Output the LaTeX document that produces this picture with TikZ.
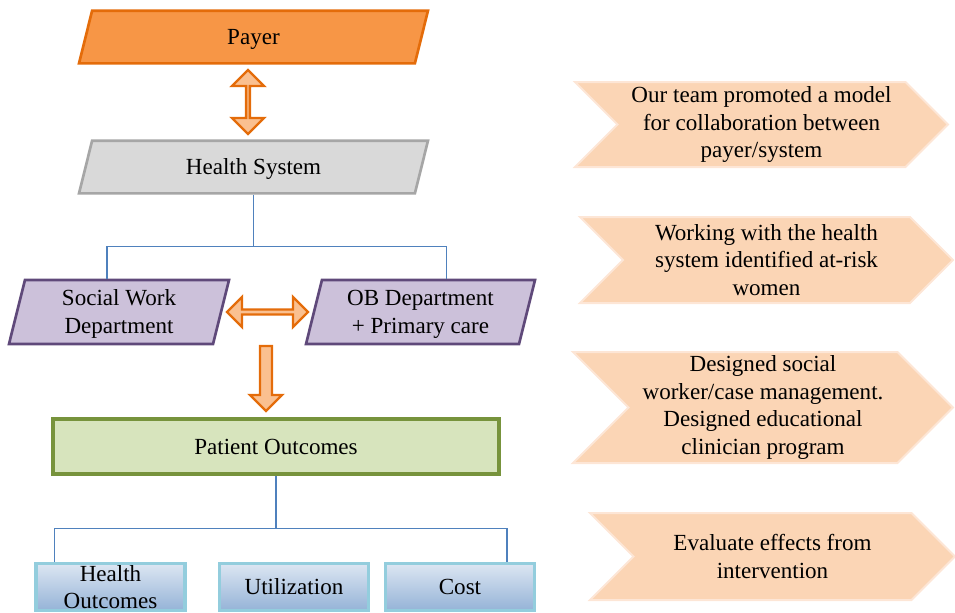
\documentclass[tikz,border=0pt]{standalone}
\usepackage{fontspec}
\setmainfont{Liberation Serif}
\usetikzlibrary{shapes.geometric,shapes.arrows,shapes.symbols}

\definecolor{payerfill}{HTML}{F79646}
\definecolor{payerdraw}{HTML}{E46C0A}
\definecolor{fatfill}{HTML}{FAC090}
\definecolor{sysfill}{HTML}{D9D9D9}
\definecolor{sysdraw}{HTML}{A6A6A6}
\definecolor{deptfill}{HTML}{CCC1DA}
\definecolor{deptdraw}{HTML}{5F497A}
\definecolor{outfill}{HTML}{D7E4BD}
\definecolor{outdraw}{HTML}{77933C}
\definecolor{leaftop}{HTML}{DCE6F2}
\definecolor{leafbot}{HTML}{95B3D7}
\definecolor{leafdraw}{HTML}{93CDDD}
\definecolor{busline}{HTML}{4F81BD}
\definecolor{stepfill}{HTML}{FBD5B5}
\definecolor{stepdraw}{HTML}{FDE6D6}

\tikzset{every picture/.style={line width=0.75pt}}
\tikzset{
  txt/.style={font=\fontsize{17.3}{20.7}\selectfont, align=center, inner sep=0pt},
  para/.style={txt, trapezium, trapezium left angle=76, trapezium right angle=104,
    trapezium stretches body=true, line width=2pt},
  oneline/.style={text height=25.5pt, text depth=14pt},
  twoline/.style={text height=40.1pt, text depth=7.9pt},
  fatarrow/.style={fill=fatfill, draw=payerdraw, line width=1.8pt, inner sep=0pt},
  leaf/.style={txt, rectangle, top color=leaftop, bottom color=leafbot, draw=leafdraw,
    line width=2.4pt, minimum width=111.75pt, minimum height=35.25pt},
  stepbox/.style={txt, signal, signal from=west, signal to=east, signal pointer angle=90,
    fill=stepfill, draw=stepdraw, line width=1.5pt},
  bus/.style={draw=busline, line width=0.9pt},
}

\begin{document}
\begin{tikzpicture}[x=0.75pt,y=0.75pt,yscale=-1,xscale=1]
  \useasboundingbox (0,0) rectangle (955,612);

  % left column
  \node[para, oneline, fill=payerfill, draw=payerdraw, minimum width=261.75pt] (payer) at (253.5,37) {Payer};
  \node[para, oneline, fill=sysfill, draw=sysdraw, minimum width=261.75pt] (hs) at (253.5,167) {Health System};
  \node[para, twoline, fill=deptfill, draw=deptdraw, minimum width=165pt] (sw) at (119,312) {Social Work\\Department};
  \node[para, twoline, fill=deptfill, draw=deptdraw, minimum width=171.75pt] (ob) at (420.5,312) {OB Department\\+ Primary care};
  \node[txt, rectangle, fill=outfill, draw=outdraw, line width=2.6pt, minimum width=334.5pt, minimum height=41.25pt] (po) at (276,446.5) {Patient Outcomes};
  \node[leaf] (ho) at (110.5,587) {Health\\Outcomes};
  \node[leaf] (util) at (294,587) {Utilization};
  \node[leaf] (cost) at (460,587) {Cost};

  % block arrows
  \node[fatarrow, double arrow, rotate=90, minimum height=48pt, minimum width=24pt, double arrow head extend=6.75pt] (pay2hs) at (248,102) {};
  \node[fatarrow, double arrow, minimum height=60.75pt, minimum width=22.5pt, double arrow head extend=4.5pt] (sw2ob) at (267.5,312) {};
  \node[fatarrow, single arrow, rotate=-90, minimum height=48.75pt, minimum width=24pt, single arrow head extend=1.5pt] (dep2po) at (266,375.5) {};

  % org lines
  \draw[bus] (hs.south) -- ++(0,52) coordinate (hsbus);
  \draw[bus] ([xshift=-9pt]sw.north) |- (hsbus) -| ([xshift=19.5pt]ob.north);
  \draw[bus] (po.south) -- ++(0,53) coordinate (pobus);
  \draw[bus] ([xshift=-42pt]ho.north) |- (pobus) -| ([xshift=35.25pt]cost.north);

  % steps on the right
  \node[stepbox, minimum width=279.75pt, minimum height=63.75pt] (st1) at (761.5,124.5) {Our team promoted a model\\for collaboration between\\payer/system};
  \node[stepbox, minimum width=279.75pt, minimum height=64.5pt] (st2) at (766.5,260) {Working with the health\\system identified at-risk\\women};
  \node[stepbox, minimum width=285pt, minimum height=83.25pt] (st3) at (763,407.5) {Designed social\\worker/case management.\\Designed educational\\clinician program};
  \node[stepbox, minimum width=273.75pt, minimum height=65.25pt] (st4) at (772.5,556.5) {Evaluate effects from\\intervention};
\end{tikzpicture}
\end{document}
